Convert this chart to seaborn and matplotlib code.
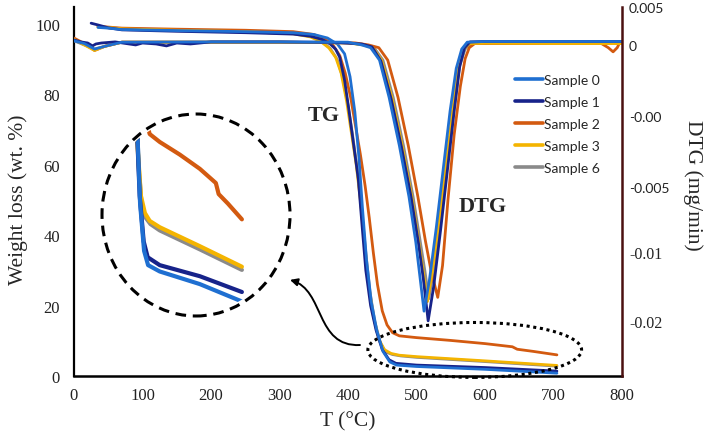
import matplotlib
matplotlib.use("Agg")
import matplotlib.pyplot as plt
import pandas as pd
import seaborn as sns
from matplotlib.lines import Line2D
from matplotlib.patches import Ellipse, FancyArrowPatch
from matplotlib.path import Path

SAMPLES = ["Sample 0", "Sample 1", "Sample 2", "Sample 3", "Sample 6"]
COLORS = ["#1f6fd1", "#17238a", "#d35a10", "#f4b400", "#8a8a8a"]
DRAW_ORDER = ["Sample 6", "Sample 2", "Sample 3", "Sample 1", "Sample 0"]

# TG curves, weight loss (wt. %) vs T (°C)
TG_S0_T = [35, 50, 70, 150, 250, 320, 350, 370, 385, 395, 403, 410, 416, 421, 427, 434, 442, 451, 461, 471, 500, 600, 705]
TG_S0_W = [99.0, 98.8, 98.4, 98.1, 97.8, 97.5, 97.0, 96.0, 94.2, 91.5, 85.0, 75.0, 62.0, 48.0, 33.0, 21.0, 13.0, 7.0, 4.0, 3.1, 2.7, 1.9, 0.8]
TG_S1_T = [25, 35, 50, 70, 150, 250, 320, 345, 362, 374, 382, 388, 395, 401, 408, 415, 420, 426, 433, 441, 450, 460, 470, 500, 600, 705]
TG_S1_W = [100.2, 99.7, 98.9, 98.3, 97.9, 97.5, 97.1, 96.5, 95.6, 94.3, 92.8, 90.5, 84.0, 76.0, 66.0, 56.0, 44.0, 30.0, 20.0, 13.0, 7.5, 4.6, 3.6, 3.1, 2.4, 1.4]
TG_S2_T = [35, 50, 70, 150, 250, 320, 350, 366, 378, 388, 396, 404, 411, 418, 425, 431, 437, 443, 450, 457, 465, 475, 500, 550, 600, 640, 647, 670, 705]
TG_S2_W = [99.3, 99.1, 98.8, 98.5, 98.2, 97.8, 97.0, 95.8, 94.0, 91.0, 86.0, 79.0, 71.0, 63.0, 54.0, 45.0, 35.0, 26.0, 18.5, 14.5, 12.3, 11.4, 10.9, 10.1, 9.2, 8.3, 7.6, 7.0, 6.0]
TG_S3_T = [35, 50, 70, 150, 250, 320, 345, 360, 372, 382, 390, 398, 405, 412, 418, 424, 430, 437, 445, 453, 463, 475, 500, 600, 705]
TG_S3_W = [99.2, 99.0, 98.6, 98.2, 97.8, 97.2, 96.3, 95.0, 93.2, 90.5, 86.0, 78.0, 69.0, 60.0, 50.0, 38.0, 26.0, 17.0, 10.5, 7.5, 6.4, 5.9, 5.5, 4.3, 3.0]
TG_S6_T = [35, 50, 70, 150, 250, 320, 347, 362, 374, 384, 392, 400, 407, 414, 420, 426, 432, 439, 447, 455, 465, 477, 500, 600, 705]
TG_S6_W = [99.1, 98.9, 98.5, 98.1, 97.7, 97.3, 96.4, 95.0, 93.0, 90.0, 85.0, 77.0, 68.0, 58.0, 47.0, 35.0, 24.0, 15.5, 9.5, 6.8, 6.1, 5.7, 5.3, 4.1, 2.8]

# DTG curves (mg/min) vs T (°C)
DTG_S0_T = [0, 15, 30, 45, 70, 200, 300, 400, 420, 433, 446, 460, 475, 489, 499, 505, 511, 519, 529, 539, 549, 558, 566, 574, 600, 700, 800]
DTG_S0_V = [0.0003, 0.0001, -0.0003, -0.0001, 0.0002, 0.00022, 0.00022, 0.0002, 0.0, -0.0002, -0.0011, -0.0038, -0.0073, -0.0110, -0.0143, -0.0168, -0.0193, -0.0170, -0.0132, -0.0090, -0.0048, -0.0017, -0.0003, 0.0002, 0.00025, 0.00025, 0.00025]
DTG_S1_T = [0, 10, 20, 27, 32, 40, 60, 90, 100, 120, 135, 150, 170, 200, 300, 380, 420, 435, 448, 463, 478, 492, 503, 510, 517, 525, 535, 545, 555, 563, 570, 578, 600, 700, 800]
DTG_S1_V = [0.00036, 0.00022, 0.00014, -0.00007, 0.00007, 0.00014, 0.00022, 0.0, 0.00014, 0.00007, -0.00007, 0.00014, 0.00007, 0.00022, 0.00022, 0.00018, 0.00007, -0.00014, -0.00116, -0.00391, -0.00739, -0.01101, -0.01442, -0.01696, -0.0200, -0.01754, -0.01348, -0.00913, -0.00478, -0.00159, -0.00022, 0.00022, 0.00025, 0.00025, 0.00025]
DTG_S2_T = [0, 15, 30, 45, 70, 200, 300, 410, 430, 445, 458, 473, 488, 502, 513, 521, 531, 538, 546, 555, 564, 571, 577, 585, 650, 770, 780, 787, 793, 797, 800]
DTG_S2_V = [0.0005, 0.0001, -0.0004, -0.0001, 0.0002, 0.0002, 0.0002, 0.00015, 0.0, -0.0002, -0.0011, -0.0038, -0.0073, -0.0110, -0.0142, -0.0163, -0.0183, -0.0160, -0.0112, -0.0065, -0.0030, -0.0010, -0.0002, 0.0001, 0.0001, 0.0001, -0.0002, -0.0005, -0.0002, 0.0002, 0.0002]
DTG_S3_T = [0, 15, 30, 45, 70, 200, 300, 400, 422, 436, 449, 464, 479, 493, 503, 510, 516, 523, 533, 543, 553, 561, 569, 577, 600, 700, 800]
DTG_S3_V = [0.0004, 0.0, -0.0004, -0.0001, 0.0002, 0.0002, 0.0002, 0.00015, 0.0, -0.0002, -0.0011, -0.0038, -0.0073, -0.0110, -0.0142, -0.0165, -0.0186, -0.0165, -0.0127, -0.0087, -0.0046, -0.0016, -0.0003, 0.0001, 0.00012, 0.0001, 0.0001]
DTG_S6_T = [0, 15, 30, 45, 70, 200, 300, 400, 424, 438, 451, 466, 481, 495, 505, 512, 518, 525, 535, 545, 555, 563, 571, 579, 600, 700, 800]
DTG_S6_V = [0.0003, 0.0, -0.0003, -0.0001, 0.0002, 0.0002, 0.0002, 0.00015, 0.0, -0.0002, -0.0011, -0.0038, -0.0073, -0.0110, -0.0141, -0.0163, -0.0184, -0.0163, -0.0125, -0.0085, -0.0045, -0.0015, -0.0003, 0.0001, 0.00012, 0.0001, 0.0001]

X_TICKS = [0, 100, 200, 300, 400, 500, 600, 700, 800]
Y_TICKS = [0, 20, 40, 60, 80, 100]
# the right axis of the original is not linear; labels are placed where they sit in the figure
DTG_TICKS = [0.00275, 0.0, -0.00514, -0.01029, -0.0150, -0.0200]
DTG_LABELS = ["0.005", "0", "-0.00", "-0.005", "-0.01", "-0.02"]


def long_frame(ts, vs, col):
    parts = [pd.DataFrame({"T": t, col: v, "sample": s}) for s, t, v in zip(SAMPLES, ts, vs)]
    return pd.concat(parts, ignore_index=True)


tg = long_frame([TG_S0_T, TG_S1_T, TG_S2_T, TG_S3_T, TG_S6_T],
                [TG_S0_W, TG_S1_W, TG_S2_W, TG_S3_W, TG_S6_W], "wt")
dtg = long_frame([DTG_S0_T, DTG_S1_T, DTG_S2_T, DTG_S3_T, DTG_S6_T],
                 [DTG_S0_V, DTG_S1_V, DTG_S2_V, DTG_S3_V, DTG_S6_V], "dtg")
palette = dict(zip(SAMPLES, COLORS))

sns.set_theme(style="white")
plt.rcParams["font.family"] = ["Liberation Serif", "DejaVu Serif"]

fig = plt.figure(figsize=(7.08, 4.39), dpi=100)
ax = fig.add_axes([74 / 708, 1 - 377 / 439, 548 / 708, 369 / 439])
ax2 = ax.twinx()

sns.lineplot(data=tg, x="T", y="wt", hue="sample", hue_order=DRAW_ORDER, palette=palette,
             estimator=None, sort=False, lw=2.0, legend=False, ax=ax)
sns.lineplot(data=dtg, x="T", y="dtg", hue="sample", hue_order=DRAW_ORDER, palette=palette,
             estimator=None, sort=False, lw=2.0, legend=False, ax=ax2)

ax.set_xlim(0, 800)
ax.set_ylim(0, 104.8)
ax2.set_ylim(-0.024, 0.00275)
ax.set_xticks(X_TICKS)
ax.set_yticks(Y_TICKS)
ax2.set_yticks(DTG_TICKS)
ax2.set_yticklabels(DTG_LABELS)
ax.tick_params(axis="both", length=0, labelsize=12, colors="#222222")
ax.tick_params(axis="x", pad=8)
ax.tick_params(axis="y", pad=10)
ax2.tick_params(axis="y", length=0, labelsize=11.5, pad=5, colors="#222222")
for i, lab in enumerate(ax2.get_yticklabels()):
    if i < 4:
        lab.set_family(["Lato", "DejaVu Sans"])
        lab.set_fontsize(10)

ax.set_xlabel("T (°C)", fontsize=15.5, labelpad=6)
ax.set_ylabel("Weight loss (wt. %)", fontsize=15.5)
ax.yaxis.set_label_coords(-0.084, 0.48)
ax2.set_ylabel("DTG (mg/min)", fontsize=15.5, rotation=270)
ax2.yaxis.set_label_coords(1.148, 0.518)

for a in (ax, ax2):
    a.spines["top"].set_visible(False)
ax.spines["right"].set_visible(False)
ax2.spines["left"].set_visible(False)
ax2.spines["bottom"].set_visible(False)
ax.spines["left"].set_color("black")
ax.spines["left"].set_linewidth(1.6)
ax.spines["bottom"].set_color("black")
ax.spines["bottom"].set_linewidth(1.8)
ax2.spines["right"].set_color("#4b1010")
ax2.spines["right"].set_linewidth(1.8)

ax.text(365, 74, "TG", fontsize=16, fontweight="bold", ha="center", va="center")
ax.text(596, 48.3, "DTG", fontsize=16, fontweight="bold", ha="center", va="center")

# dotted ellipse around the residue region
ax.add_patch(Ellipse((585, 7.4), 312, 15.6, fill=False, ec="black", lw=2.2,
                     ls=(0, (1, 1.2)), clip_on=False, zorder=5))

# curved arrow toward the magnified view
arrow_path = Path([(417.5, 8.8), (351.8, 8.2), (366.4, 24.4), (315.3, 27.3)],
                  [Path.MOVETO, Path.CURVE4, Path.CURVE4, Path.CURVE4])
ax.add_patch(FancyArrowPatch(path=arrow_path, arrowstyle="-|>", mutation_scale=11,
                             lw=1.4, color="black", zorder=5))

handles = [Line2D([], [], color=c, lw=2.6) for c in COLORS]
ax2.legend(handles, SAMPLES, loc="upper left", bbox_to_anchor=(0.795, 0.834), frameon=False,
           handlelength=2.0, handletextpad=0.1, labelspacing=0.72, borderaxespad=0,
           prop={"family": ["Lato", "DejaVu Sans"], "size": 10})

# magnified inset of the residue, clipped to a circle
axin = fig.add_axes([102 / 708, 1 - 317 / 439, 188 / 708, 202 / 439])
axin.patch.set_visible(False)
axin.set_axis_off()
sns.lineplot(data=tg, x="T", y="wt", hue="sample", hue_order=DRAW_ORDER, palette=palette,
             estimator=None, sort=False, lw=3.0, legend=False, ax=axin)
axin.set_xlim(356, 825)
axin.set_ylim(-0.12, 12.67)
clip = Ellipse((0.5, 0.5), 0.97, 0.97, transform=axin.transAxes)
for line in axin.get_lines():
    line.set_clip_path(clip)
axin.add_patch(Ellipse((0.5, 0.5), 1.0, 1.0, transform=axin.transAxes, fill=False,
                       ec="black", lw=2.2, ls=(0, (3.5, 2.2)), clip_on=False))

fig.savefig("out.png", dpi=100)
